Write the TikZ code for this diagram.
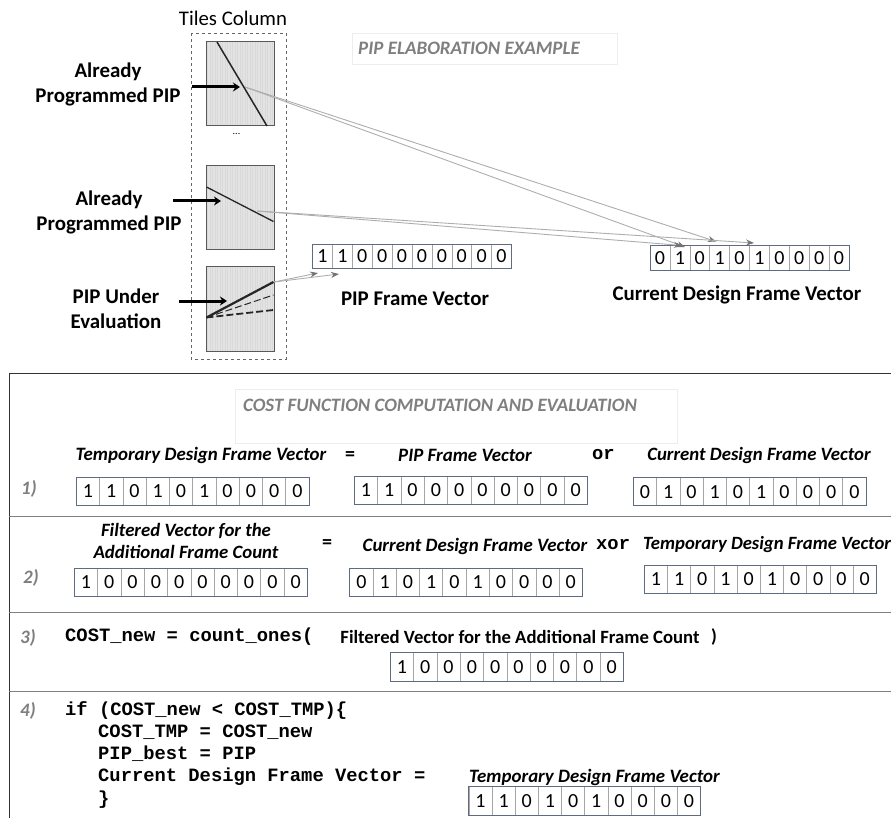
\documentclass[tikz,border=0pt]{standalone}
\usepackage{fontspec}
\setmainfont{Carlito}
\setmonofont{Liberation Mono}
\usetikzlibrary{arrows.meta,patterns.meta}
\definecolor{titlegray}{HTML}{7F7F7F}
\definecolor{vecedge}{HTML}{5F6B80}
\definecolor{wiregray}{HTML}{ADADAD}
\newcommand{\labelfont}[1]{\fontsize{#1}{#1}\selectfont\bfseries}
\newcommand{\bitvec}[6]{%
  \pgfmathsetmacro{\cellw}{(#4-#2)/10}
  \pgfmathsetmacro{\cellh}{#5-#3}
  \pgfmathsetmacro{\celly}{(#3+#5)/2}
  \foreach \b [count=\i] in {#6} {
    \pgfmathsetmacro{\cellx}{#2+(\i-0.5)*\cellw}
    \node[bitcell, minimum width=\cellw pt, minimum height=\cellh pt] (#1-\i) at (\cellx,\celly) {\b};
  }
  \draw[vecedge, line width=0.9pt] (#2,#3) rectangle (#4,#5);
}
\begin{document}
\begin{tikzpicture}[x=1pt,y=-1pt,
  bitcell/.style={draw=black!35, line width=0.5pt, inner sep=0pt, outer sep=0pt, font=\fontsize{20}{20}\selectfont},
  tilebox/.style={draw=black!65, line width=1pt},
  picklabel/.style={font=\labelfont{20.9}, align=center, yshift=-1.5pt},
  vecname/.style={font=\labelfont{#1}\itshape, inner sep=0pt, yshift=-1.5pt},
  steplabel/.style={font=\labelfont{19}\itshape, text=titlegray, inner sep=0pt, yshift=-1pt},
  sectitle/.style={font=\labelfont{#1}\itshape, text=titlegray, inner sep=0pt, anchor=west},
  code/.style={font=\ttfamily\labelfont{18.8}, inner sep=0pt, anchor=west},
  rowline/.style={draw=black!50, line width=0.8pt},
  pipin/.style={line width=3pt, -{Stealth[length=7pt, width=9pt]}},
  wire/.style={wiregray, line width=0.9pt, -{Stealth[length=8pt, width=6pt, color=black!55]}}]
\useasboundingbox (0,0) rectangle (891,818);
% tiles column
\node[font=\fontsize{20.8}{20.8}\selectfont, inner sep=0pt] (tilestitle) at (233,18) {Tiles Column};
\draw[black!60, dashed, line width=0.8pt] (191,33) rectangle (286,359);
\foreach \tiley in {42,166,267} {
  \fill[black!11] (206.5,\tiley) rectangle (274,\tiley+84);
  \fill[pattern={Lines[angle=90,distance=2.5pt,line width=0.5pt]}, pattern color=white!85!black] (206.5,\tiley) rectangle (274,\tiley+84);
  \draw[tilebox] (206.5,\tiley) rectangle (274,\tiley+84);
}
\node[font=\fontsize{10}{10}\selectfont, inner sep=0pt] (moredots) at (236.5,134) {...};
% pips
\draw[black!85, line width=1.5pt] (217,42) -- (267,126);
\draw[black!85, line width=1.3pt] (206.5,187) -- (273.5,221.5);
\draw[black!85, line width=2.2pt] (206.5,317.5) -- (273.5,282);
\draw[black!85, dash pattern=on 7pt off 3pt, line width=1pt] (206.5,317.5) -- (273.5,295);
\draw[black!85, dash pattern=on 7pt off 3pt, line width=1.8pt] (206.5,317.5) -- (273.5,310);
% labels
\node[picklabel] (pipa) at (108,82.5) {Already\\[4pt]Programmed PIP};
\node[picklabel] (pipb) at (109,211) {Already\\[4pt]Programmed PIP};
\node[picklabel] (pipc) at (116,307.5) {PIP Under\\[4pt]Evaluation};
\coordinate (pipaS) at (192,87);
\coordinate (pipaE) at (240,87);
\coordinate (pipbS) at (173,201);
\coordinate (pipbE) at (221,201);
\coordinate (pipcS) at (179,301);
\coordinate (pipcE) at (227,301);
\draw[pipin] (pipaS) -- (pipaE);
\draw[pipin] (pipbS) -- (pipbE);
\draw[pipin] (pipcS) -- (pipcE);
% top title
\draw[black!7, line width=0.7pt] (352,33) rectangle (617,64);
\node[sectitle=19] (elabtitle) at (358,48) {PIP ELABORATION EXAMPLE};
% top vectors
\bitvec{pipvec}{312.5}{244}{511.5}{268}{1,1,0,0,0,0,0,0,0,0}
\bitvec{curvec}{650}{245.7}{849}{270}{0,1,0,1,0,1,0,0,0,0}
\node[picklabel] (pipvecname) at (415,297) {PIP Frame Vector};
\node[picklabel] (curvecname) at (737,293) {Current Design Frame Vector};
% wires
\coordinate (tapa) at (245,87);
\coordinate (tapb) at (257,211);
\coordinate (tapc) at (274,282);
\coordinate (cura) at (685,247);
\coordinate (curb) at (716,241.5);
\coordinate (curc) at (754,243);
\coordinate (curd) at (682,245.5);
\coordinate (pipveca) at (318,273);
\coordinate (pipvecb) at (339,274);
\draw[wire] (tapa) -- (cura);
\draw[wire] (tapa) -- (curb);
\draw[wire] (tapb) -- (curc);
\draw[wire] (tapb) -- (curd);
\draw[wire] (tapc) -- (pipveca);
\draw[wire] (tapc) -- (pipvecb);
% frame
\draw[black!80, line width=1pt] (891,373) -- (9,373) -- (9,818);
\draw[rowline] (9,516) -- (891,516);
\draw[rowline] (9,612.5) -- (891,612.5);
\draw[rowline] (9,691.5) -- (891,691.5);
\draw[black!7, line width=0.7pt] (235.5,389) rectangle (677,443);
\node[sectitle=18.9] (costtitle) at (243,405) {COST FUNCTION COMPUTATION AND EVALUATION};
% step 1
\node[steplabel] (stepa) at (29,488) {1)};
\node[vecname=18.9] (tmpa) at (201,454) {Temporary Design Frame Vector};
\node[font=\labelfont{20}, inner sep=0pt] (eqa) at (350,456) {=};
\node[vecname=18.9] (pipname) at (465,454) {PIP Frame Vector};
\node[code] (ora) at (592,455) {or};
\node[vecname=18.8] (curnamea) at (759,454) {Current Design Frame Vector};
\bitvec{tmpvec}{76.3}{477}{309}{505.7}{1,1,0,1,0,1,0,0,0,0}
\bitvec{pipvecc}{354.3}{476}{587.3}{504.7}{1,1,0,0,0,0,0,0,0,0}
\bitvec{curvecb}{633.3}{477.7}{866}{505.7}{0,1,0,1,0,1,0,0,0,0}
% step 2
\node[steplabel] (stepb) at (31,577) {2)};
\node[vecname=18.8, align=center] (filta) at (186,539.5) {Filtered Vector for the\\[4pt]Additional Frame Count};
\node[font=\labelfont{20}, inner sep=0pt] (eqb) at (327,544) {=};
\node[vecname=18.9] (curnameb) at (475,545) {Current Design Frame Vector};
\node[code] (xora) at (596,545) {xor};
\node[vecname=18.7] (tmpb) at (767,543) {Temporary Design Frame Vector};
\bitvec{filtvec}{74.3}{568}{307.3}{596.7}{1,0,0,0,0,0,0,0,0,0}
\bitvec{curvecc}{349.7}{568}{582.3}{596}{0,1,0,1,0,1,0,0,0,0}
\bitvec{tmpvecb}{644.3}{565.3}{876.3}{593.7}{1,1,0,1,0,1,0,0,0,0}
% step 3
\node[steplabel] (stepc) at (28,637) {3)};
\node[code] (costcall) at (65,637) {COST\_new = count\_ones(};
\node[inner sep=0pt, font=\labelfont{18.7}] (filtb) at (520,637) {Filtered Vector for the Additional Frame Count};
\node[font=\labelfont{18.7}, inner sep=0pt] (closecall) at (714,637) {)};
\bitvec{filtvecb}{390.3}{652.3}{623.3}{681}{1,0,0,0,0,0,0,0,0,0}
% step 4
\node[steplabel] (stepd) at (28,710) {4)};
\node[code] (ifline) at (65,710) {if (COST\_new < COST\_TMP)\{};
\node[code] (tmpline) at (98,732) {COST\_TMP = COST\_new};
\node[code] (bestline) at (98,754) {PIP\_best = PIP};
\node[code] (curline) at (98,777) {Current Design Frame Vector =};
\node[code] (endline) at (98,800) {\}};
\node[vecname=18.9] (tmpc) at (594.5,776) {Temporary Design Frame Vector};
\bitvec{tmpvecc}{468.8}{786.7}{700.6}{815.3}{1,1,0,1,0,1,0,0,0,0}
\end{tikzpicture}
\end{document}
